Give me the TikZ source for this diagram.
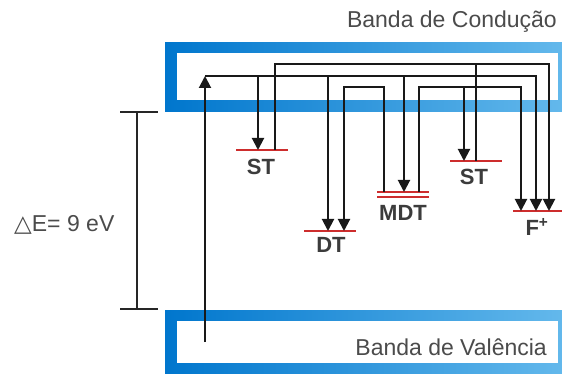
\documentclass[tikz,border=0pt]{standalone}
\usepackage{fontspec}
\setmainfont{Liberation Sans}
\newfontfamily\symfont{DejaVu Sans}
\usetikzlibrary{arrows.meta}
\definecolor{bandL}{RGB}{0,118,205}
\definecolor{bandR}{RGB}{100,185,236}
\definecolor{lvlred}{RGB}{205,45,45}
\definecolor{txtgray}{RGB}{75,75,75}
\definecolor{lblgray}{RGB}{60,60,60}
\tikzset{
  wire/.style={line width=2pt, black!90},
  trap/.style={wire, -{Triangle[length=12pt,width=12pt]}},
  level/.style={line width=2pt, lvlred},
  lvllabel/.style={font=\fontsize{22}{24}\selectfont\bfseries, text=lblgray, inner sep=0pt, anchor=base},
  bandtext/.style={font=\fontsize{23}{26}\selectfont, text=txtgray, inner sep=0pt},
}
\begin{document}
\begin{tikzpicture}[x=1pt,y=-1pt]
\useasboundingbox (0,0) rectangle (562,374);
% bands
\shade[left color=bandL, right color=bandR] (165,43) rectangle (566,112);
\fill[white] (177,53) rectangle (558,100);
\shade[left color=bandL, right color=bandR] (165,310) rectangle (566,374);
\fill[white] (177,321) rectangle (558,363);
\node[bandtext, anchor=base east] (cb) at (557,28) {Banda de Condução};
\node[bandtext, anchor=base east] (vb) at (547,355) {Banda de Valência};
% gap
\coordinate (gt) at (137,112);
\coordinate (gb) at (137,309);
\draw[line width=1.8pt, black!85] (gt) -- (gb);
\draw[line width=1.8pt, black!85] (120,112) -- (158,112);
\draw[line width=1.8pt, black!85] (120,309) -- (158,309);
\node[bandtext, anchor=base west] (de) at (14,231) {{\symfont △}E= 9 eV};
% levels
\draw[level] (236,150) -- (288,150);
\draw[level] (304,231) -- (356,231);
\draw[level] (377,192) -- (429,192);
\draw[level] (377,197) -- (429,197);
\draw[level] (450,161) -- (502,161);
\draw[level] (513,211) -- (562,211);
\node[lvllabel] (st1) at (261,175) {ST};
\node[lvllabel] (dt) at (331,252) {DT};
\node[lvllabel] (mdt) at (403,220) {MDT};
\node[lvllabel] (st2) at (474,185) {ST};
\node[lvllabel] (fp) at (537,235) {F\textsuperscript{+}};
% coordinates on levels
\coordinate (vstart) at (205,342);
\coordinate (st1a) at (258,150);
\coordinate (st1b) at (275,150);
\coordinate (dta) at (328,231);
\coordinate (dtb) at (344,231);
\coordinate (mdta) at (384,192);
\coordinate (mdtb) at (404,192);
\coordinate (mdtc) at (419,192);
\coordinate (st2a) at (464,161);
\coordinate (st2b) at (476,161);
\coordinate (fa) at (521,211);
\coordinate (fb) at (536,211);
\coordinate (fc) at (549,211);
% excitation
\draw[trap] (vstart) -- (205,76);
\draw[trap] (205,76) -| (fb);
\draw[trap] (258,76) -- (st1a);
\draw[trap] (328,76) -- (dta);
\draw[trap] (404,76) -- (mdtb);
% ST -> F+
\draw[trap] (st1b) |- (549,64) -- (fc);
\draw[wire] (st2b) -- (476,64);
% MDT -> DT
\draw[trap] (mdta) |- (344,87) -- (dtb);
% MDT -> ST, F+
\draw[trap] (mdtc) |- (521,87) -- (fa);
\draw[trap] (464,87) -- (st2a);
\end{tikzpicture}
\end{document}
